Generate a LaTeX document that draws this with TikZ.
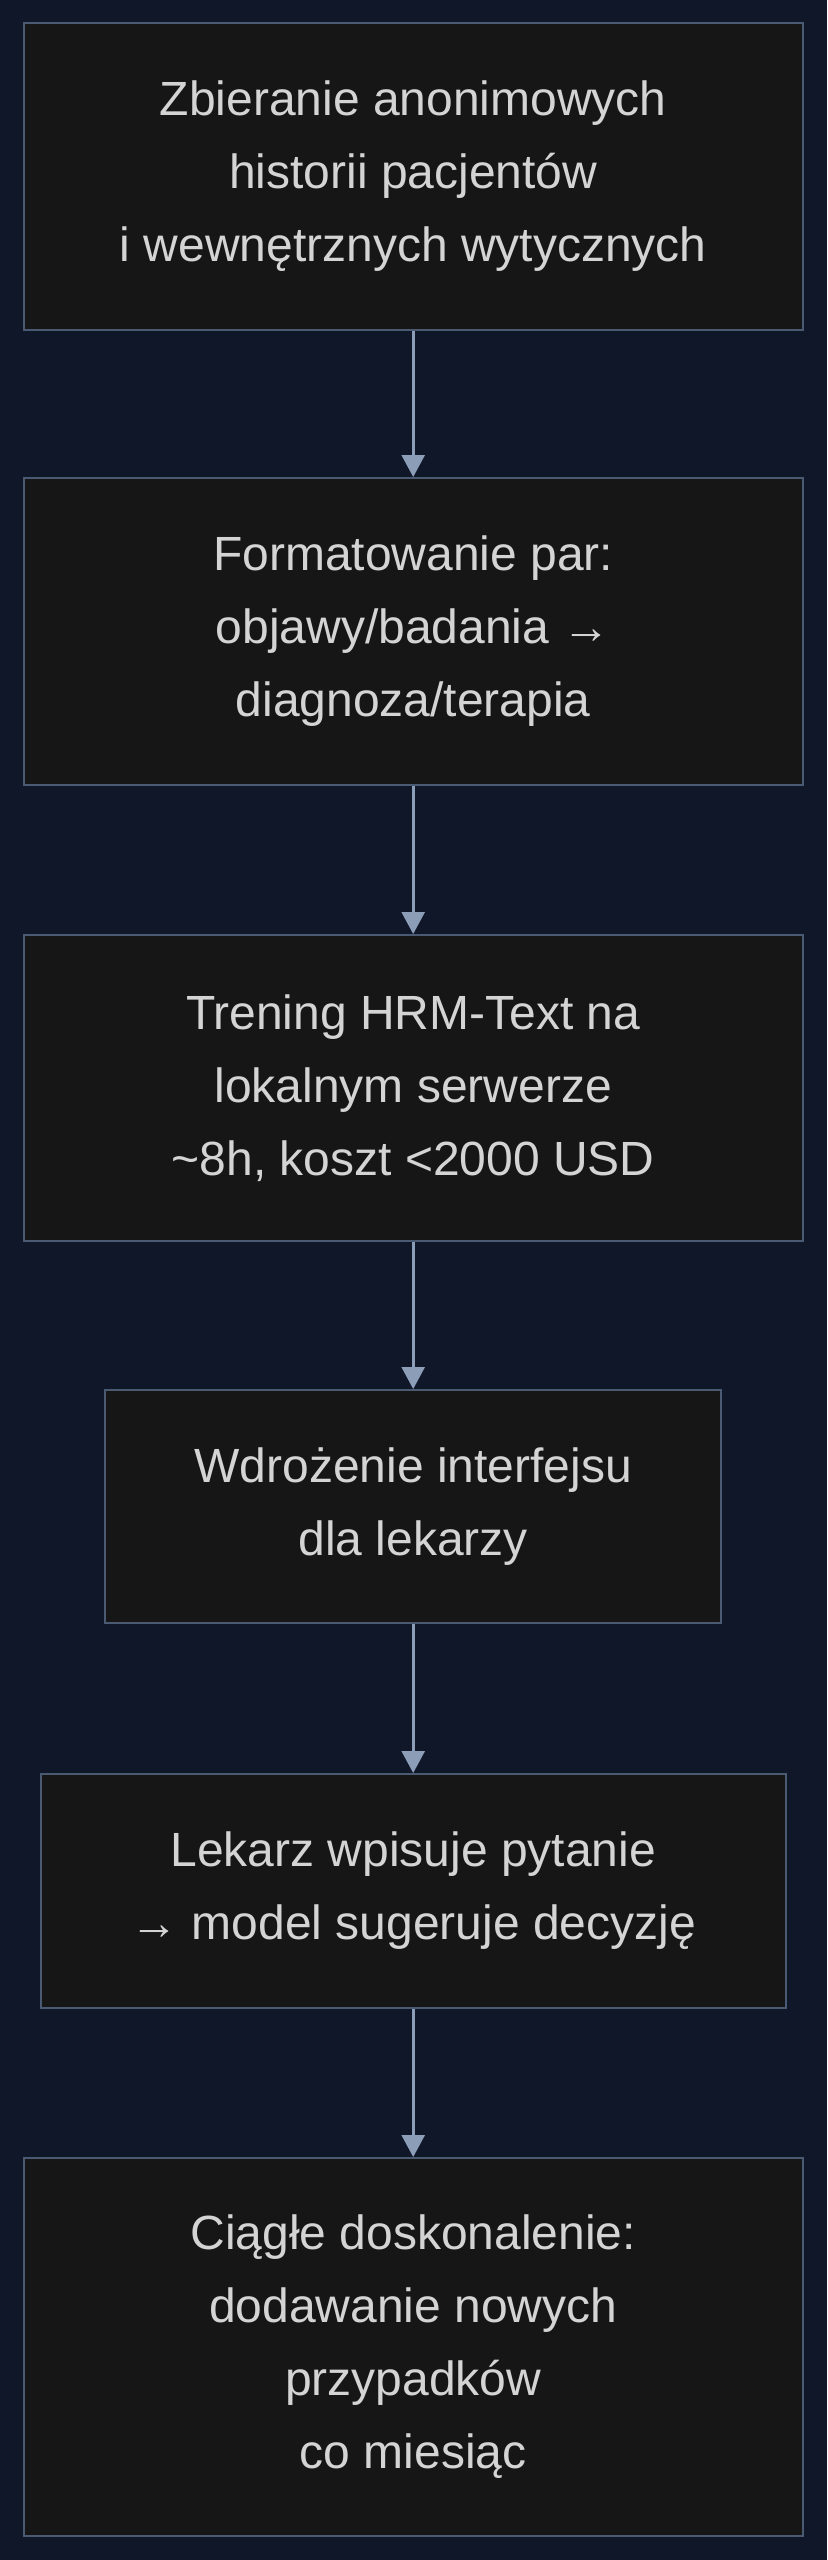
\documentclass[tikz,border=0pt]{standalone}
\usepackage{fontspec}
\setmainfont{Liberation Sans}
\usetikzlibrary{arrows.meta}
\definecolor{tlo}{HTML}{0F1729}
\definecolor{wypelnienie}{HTML}{161616}
\definecolor{ramka}{HTML}{4A5A72}
\definecolor{tekst}{HTML}{D4D4D4}
\definecolor{strzalka}{HTML}{8C9DB8}
\tikzset{
  krok/.style={draw=ramka, line width=1pt, fill=wypelnienie, text=tekst,
    align=center, inner sep=0pt, minimum width=389.5pt,
    font=\fontsize{24}{36.5}\selectfont},
  polacz/.style={draw=strzalka, line width=1.3pt,
    -{Triangle[length=11pt,width=11.5pt]}}
}
\begin{document}
\begin{tikzpicture}[x=0.5pt,y=-0.5pt]
    % Tlo
    \fill[tlo] (0,0) rectangle (827,2560);
    \useasboundingbox (0,0) rectangle (827,2560);

    % Kroki
    \node[krok, minimum height=153.5pt] (zbieranie) at (413.2,176.5)
      {Zbieranie anonimowych\\historii pacjentów\\i wewnętrznych wytycznych};
    \node[krok, minimum height=153.5pt] (formatowanie) at (413.2,631.5)
      {Formatowanie par:\\objawy/badania →\\diagnoza/terapia};
    \node[krok, minimum height=153pt] (trening) at (413.2,1088)
      {Trening HRM-Text na\\lokalnym serwerze\\\textasciitilde 8h, koszt <2000 USD};
    \node[krok, minimum width=308pt, minimum height=116.5pt] (wdrozenie) at (413.2,1506.5)
      {Wdrożenie interfejsu\\dla lekarzy};
    \node[krok, minimum width=372.5pt, minimum height=117pt] (pytanie) at (413.2,1891)
      {Lekarz wpisuje pytanie\\→ model sugeruje decyzję};
    \node[krok, minimum height=189pt] (doskonalenie) at (413.2,2347)
      {Ciągłe doskonalenie:\\dodawanie nowych\\przypadków\\co miesiąc};

    % Strzalki
    \draw[polacz] (zbieranie) -- (formatowanie);
    \draw[polacz] (formatowanie) -- (trening);
    \draw[polacz] (trening) -- (wdrozenie);
    \draw[polacz] (wdrozenie) -- (pytanie);
    \draw[polacz] (pytanie) -- (doskonalenie);
\end{tikzpicture}
\end{document}
